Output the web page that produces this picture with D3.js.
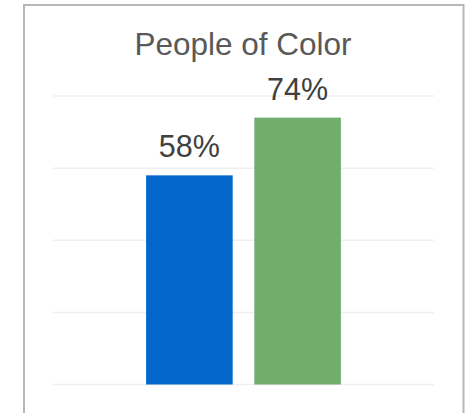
<!DOCTYPE html>
<html>
<head>
<meta charset="utf-8">
<script src="https://cdn.jsdelivr.net/npm/d3@7"></script>
<style>
  html, body { margin: 0; padding: 0; background: #fff; }
  svg { display: block; font-family: "Liberation Sans", Arial, sans-serif; }
</style>
</head>
<body>
<svg id="chart" width="470" height="413"></svg>
<script>
const title = "People of Color";
const categories = ["People of Color"];
const seriesNames = ["Group A", "Group B"];
const seriesValues = [58, 74];
const seriesColors = ["#0366CB", "#71AE6E"];
const yTicks = [0, 20, 40, 60, 80];

const svg = d3.select("#chart");
const W = 470, H = 413;
const plot = { left: 53, right: 434, top: 96, bottom: 384.5 };

// border
svg.append("rect")
  .attr("x", 24).attr("y", 5)
  .attr("width", 439.5).attr("height", 430)
  .attr("fill", "#fff")
  .attr("stroke", "#b7b7b7").attr("stroke-width", 2);

const y = d3.scaleLinear().domain([0, 80]).range([plot.bottom, plot.top]);
const x0 = d3.scaleBand().domain(categories).range([plot.left, plot.right])
  .paddingInner(0).paddingOuter(0.478);
const x1 = d3.scaleBand().domain(seriesNames).range([0, x0.bandwidth()])
  .paddingInner(0.2).paddingOuter(0);

// gridlines
svg.append("g").selectAll("line").data(yTicks).join("line")
  .attr("x1", plot.left).attr("x2", plot.right)
  .attr("y1", d => y(d)).attr("y2", d => y(d))
  .attr("stroke", "#efefef").attr("stroke-width", 1.5);

const data = seriesNames.map((s, i) => ({ cat: categories[0], s, v: seriesValues[i], c: seriesColors[i] }));

const g = svg.append("g");
g.selectAll("rect").data(data).join("rect")
  .attr("x", d => x0(d.cat) + x1(d.s))
  .attr("y", d => y(d.v))
  .attr("width", x1.bandwidth())
  .attr("height", d => y(0) - y(d.v))
  .attr("fill", d => d.c);

g.selectAll("text").data(data).join("text")
  .attr("x", d => x0(d.cat) + x1(d.s) + x1.bandwidth() / 2)
  .attr("y", d => y(d.v) - 18)
  .attr("text-anchor", "middle")
  .attr("font-size", 30.5)
  .attr("fill", "#404040")
  .text(d => d.v + "%");

svg.append("text")
  .attr("x", 243).attr("y", 55)
  .attr("text-anchor", "middle")
  .attr("font-size", 31.5)
  .attr("fill", "#595959")
  .text(title);
</script>
</body>
</html>
